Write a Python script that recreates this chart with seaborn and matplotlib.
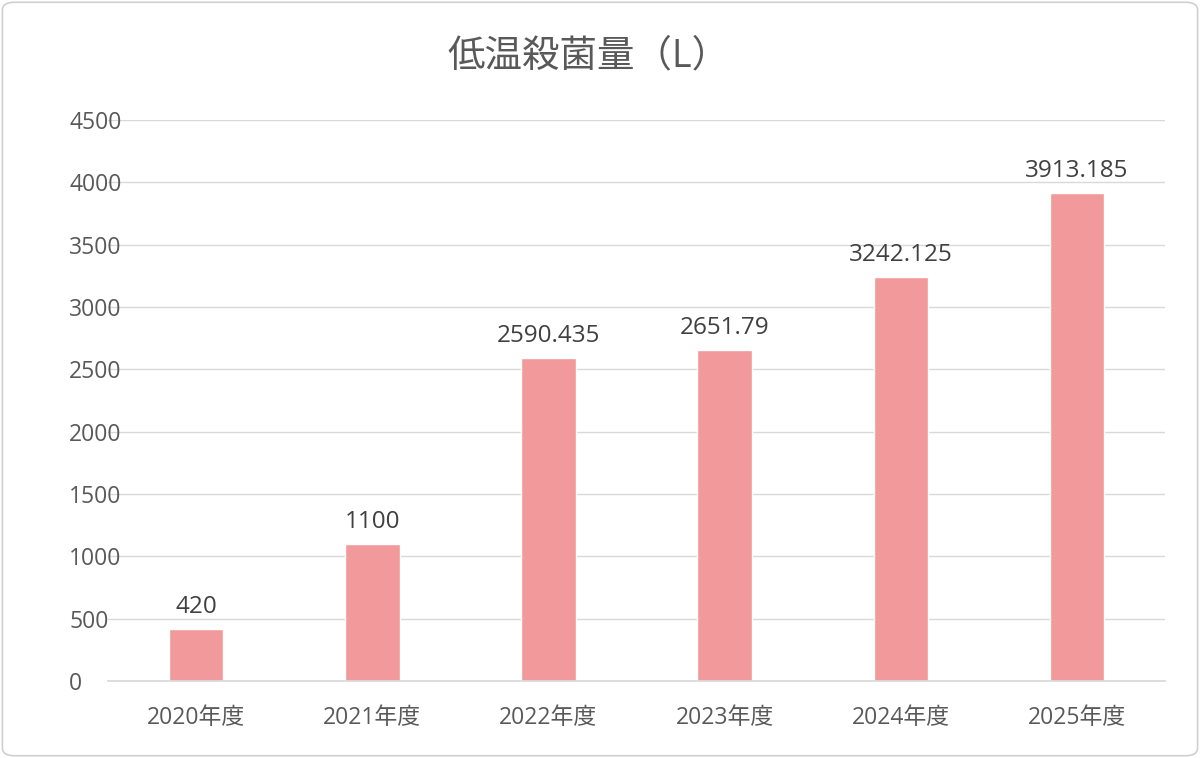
import matplotlib
matplotlib.use("Agg")
import matplotlib.pyplot as plt
import seaborn as sns
import pandas as pd
from matplotlib.patches import FancyBboxPatch

years = ["2020年度", "2021年度", "2022年度", "2023年度", "2024年度", "2025年度"]
values = [420, 1100, 2590.435, 2651.79, 3242.125, 3913.185]
labels = ["420", "1100", "2590.435", "2651.79", "3242.125", "3913.185"]

sns.set_theme(style="white")
plt.rcParams['font.family'] = ['Open Sans', 'Noto Sans CJK JP', 'DejaVu Sans']
gray = "#595959"

df = pd.DataFrame({"year": years, "value": values})
fig = plt.figure(figsize=(12, 7.58), dpi=100)
ax = fig.add_axes([0.09, 0.1016, 0.881, 0.7401])
sns.barplot(data=df, x="year", y="value", color="#F29A9B", saturation=1, width=0.31, ax=ax)

for i, (v, t) in enumerate(zip(values, labels)):
    ax.text(i, v + 80, t, ha="center", va="bottom", fontsize=17.5, color="#404040")

ax.set_ylim(0, 4500)
ax.set_yticks(range(0, 4501, 500))
ax.yaxis.grid(True, color="#D9D9D9", linewidth=1)
ax.set_axisbelow(True)
for s in ["top", "right", "left"]:
    ax.spines[s].set_visible(False)
ax.spines["bottom"].set_color("#D9D9D9")
ax.tick_params(axis="both", length=0, labelsize=16.5, colors=gray)
ax.tick_params(axis="x", pad=18)
ax.tick_params(axis="y", pad=28)
for lab in ax.get_yticklabels():
    lab.set_horizontalalignment("left")
ax.set_xlabel("")
ax.set_ylabel("")
fig.text(0.49, 0.925, "低温殺菌量（L）", ha="center", va="center", fontsize=27, color=gray)

fig.patches.append(FancyBboxPatch((0.002, 0.003), 0.996, 0.994, boxstyle="round,pad=0,rounding_size=0.01",
                                  transform=fig.transFigure, fill=False, edgecolor="#D0D0D0", linewidth=1.2))
fig.savefig("out.png", dpi=100)
